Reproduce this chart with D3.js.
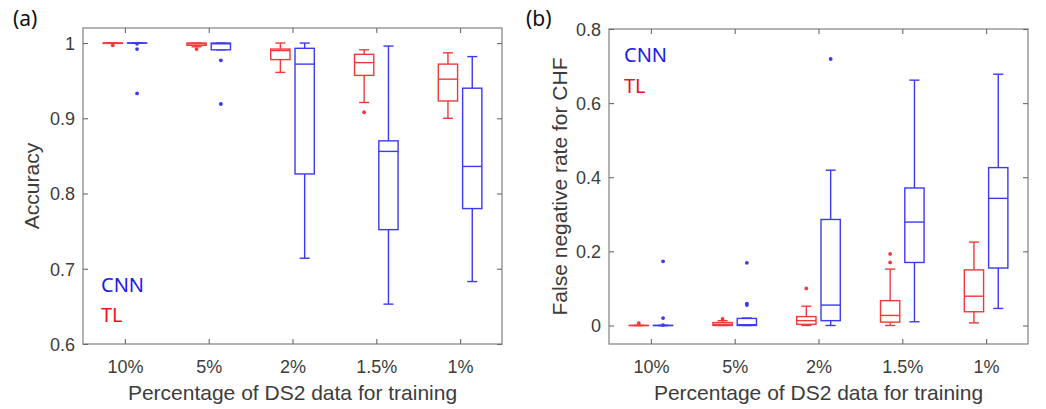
<!DOCTYPE html>
<html>
<head>
<meta charset="utf-8">
<script src="https://cdn.jsdelivr.net/npm/d3@7"></script>
<style>
  html, body { margin: 0; padding: 0; background: #ffffff; }
  svg { display: block; }
</style>
</head>
<body>
<svg id="chart" width="1046" height="409"></svg>
<script>
// ---------------- DATA ----------------
const categories = ["10%", "5%", "2%", "1.5%", "1%"];

// Each box: [lowerWhisker, q1, median, q3, upperWhisker]
// Panel (a): Accuracy
const accTL = [
  [1.000, 0.9995, 1.000, 1.000, 1.000],
  [0.995, 0.997, 0.999, 1.000, 1.000],
  [0.961, 0.978, 0.990, 0.992, 1.000],
  [0.921, 0.957, 0.974, 0.985, 0.991],
  [0.900, 0.923, 0.952, 0.972, 0.987]
];
const accTLOutliers = [[0.997], [0.992], [], [0.908], []];

const accCNN = [
  [1.000, 1.000, 1.000, 1.000, 1.000],
  [0.991, 0.991, 0.999, 1.000, 1.000],
  [0.714, 0.826, 0.972, 0.993, 1.000],
  [0.653, 0.752, 0.856, 0.870, 0.996],
  [0.683, 0.780, 0.836, 0.940, 0.982]
];
const accCNNOutliers = [[0.999, 0.992, 0.933], [0.977, 0.919], [], [], []];

// Panel (b): False negative rate for CHF
const fnrTL = [
  [0.000, 0.000, 0.000, 0.000, 0.000],
  [0.000, 0.000, 0.003, 0.008, 0.013],
  [0.000, 0.003, 0.013, 0.024, 0.052],
  [0.000, 0.009, 0.027, 0.067, 0.152],
  [0.007, 0.037, 0.079, 0.150, 0.225]
];
const fnrTLOutliers = [[0.006], [0.018], [0.100], [0.170, 0.193], []];

const fnrCNN = [
  [0.000, 0.000, 0.000, 0.000, 0.000],
  [0.000, 0.000, 0.002, 0.019, 0.020],
  [0.000, 0.013, 0.055, 0.286, 0.419],
  [0.010, 0.170, 0.279, 0.371, 0.662],
  [0.046, 0.155, 0.343, 0.426, 0.678]
];
const fnrCNNOutliers = [[0.001, 0.020, 0.173], [0.055, 0.059, 0.169], [0.719], [], []];

const accTicks = [0.6, 0.7, 0.8, 0.9, 1.0];
const accTickLabels = ["0.6", "0.7", "0.8", "0.9", "1"];
const fnrTicks = [0, 0.2, 0.4, 0.6, 0.8];
const fnrTickLabels = ["0", "0.2", "0.4", "0.6", "0.8"];

const seriesNames = ["CNN", "TL"];

// ---------------- STYLE ----------------
const COL_TL = "#f03a3a";
const COL_CNN = "#3a3af0";
const LEG_TL = "#e8161c";
const LEG_CNN = "#1a1ae6";
const FRAME = "#8a8a8a";
const TEXT = "#3c3c3c";
const TICK_FONT = "'Liberation Sans', Arial, Helvetica, sans-serif";
const LEG_FONT = "'Noto Sans', 'Open Sans', sans-serif";

const svg = d3.select("#chart");

function drawPanel(cfg) {
  const g = svg.append("g");
  const x = d3.scaleLinear().domain([0.5, categories.length + 0.5]).range([cfg.left, cfg.right]);
  const y = d3.scaleLinear().domain(cfg.yDomain).range([cfg.bottom, cfg.top]);

  const tickFmt = (d) => cfg.tickLabels[cfg.ticks.indexOf(d)];

  // Frame
  g.append("rect")
    .attr("x", cfg.left).attr("y", cfg.top)
    .attr("width", cfg.right - cfg.left).attr("height", cfg.bottom - cfg.top)
    .attr("fill", "none").attr("stroke", FRAME).attr("stroke-width", 1.3);

  const catIdx = categories.map((c, i) => i + 1);

  // Axes (ticks inward, mirrored)
  const left = g.append("g").attr("transform", `translate(${cfg.left},0)`)
    .call(d3.axisLeft(y).tickValues(cfg.ticks).tickFormat(tickFmt).tickSizeInner(-5).tickSizeOuter(0).tickPadding(12));
  const right = g.append("g").attr("transform", `translate(${cfg.right},0)`)
    .call(d3.axisRight(y).tickValues(cfg.ticks).tickFormat("").tickSizeInner(-5).tickSizeOuter(0));
  const bottom = g.append("g").attr("transform", `translate(0,${cfg.bottom})`)
    .call(d3.axisBottom(x).tickValues(catIdx).tickFormat((d) => categories[d - 1]).tickSizeInner(-5).tickSizeOuter(0).tickPadding(22));
  const top = g.append("g").attr("transform", `translate(0,${cfg.top})`)
    .call(d3.axisTop(x).tickValues(catIdx).tickFormat("").tickSizeInner(-5).tickSizeOuter(0));

  [left, right, bottom, top].forEach((a) => {
    a.attr("font-family", null).attr("font-size", null);
    a.select(".domain").remove();
    a.selectAll(".tick line").attr("stroke", "#6a6a6a").attr("stroke-width", 1.1);
    a.selectAll(".tick text").attr("fill", TEXT).style("font-family", TICK_FONT).style("font-size", "18px");
  });
  bottom.selectAll(".tick text").attr("dy", 0).attr("y", 28.5);
  left.selectAll(".tick text").attr("dy", "0.35em").attr("x", -8);

  // Box plots
  const offset = 0.145, halfW = 0.115, capHalf = 0.06;
  const series = [
    { data: cfg.tl, out: cfg.tlOut, color: COL_TL, off: -offset },
    { data: cfg.cnn, out: cfg.cnnOut, color: COL_CNN, off: offset }
  ];
  series.forEach((s) => {
    s.data.forEach((b, i) => {
      const cx = i + 1 + s.off;
      const [lo, q1, med, q3, hi] = b;
      const bg = g.append("g").attr("stroke", s.color).attr("stroke-width", 1.4).attr("fill", "none");
      // whiskers
      bg.append("line").attr("x1", x(cx)).attr("x2", x(cx)).attr("y1", y(q3)).attr("y2", y(hi));
      bg.append("line").attr("x1", x(cx)).attr("x2", x(cx)).attr("y1", y(q1)).attr("y2", y(lo));
      // caps
      bg.append("line").attr("x1", x(cx - capHalf)).attr("x2", x(cx + capHalf)).attr("y1", y(hi)).attr("y2", y(hi));
      bg.append("line").attr("x1", x(cx - capHalf)).attr("x2", x(cx + capHalf)).attr("y1", y(lo)).attr("y2", y(lo));
      // box
      bg.append("rect").attr("x", x(cx - halfW)).attr("y", y(q3))
        .attr("width", x(cx + halfW) - x(cx - halfW)).attr("height", Math.max(0.01, y(q1) - y(q3)))
        .attr("fill", "#ffffff");
      // median
      bg.append("line").attr("x1", x(cx - halfW)).attr("x2", x(cx + halfW)).attr("y1", y(med)).attr("y2", y(med));
      // outliers
      s.out[i].forEach((v) => {
        g.append("circle").attr("cx", x(cx)).attr("cy", y(v)).attr("r", 1.9).attr("fill", s.color);
      });
    });
  });

  // Axis labels
  g.append("text")
    .attr("x", (cfg.left + cfg.right) / 2).attr("y", 400)
    .attr("text-anchor", "middle").attr("fill", TEXT)
    .style("font-family", TICK_FONT).style("font-size", "21px")
    .text("Percentage of DS2 data for training");
  g.append("text")
    .attr("transform", `translate(${cfg.yLabelX},${(cfg.top + cfg.bottom) / 2}) rotate(-90)`)
    .attr("text-anchor", "middle").attr("fill", TEXT)
    .style("font-family", TICK_FONT).style("font-size", "21px")
    .text(cfg.yLabel);

  // Panel tag
  g.append("text").attr("x", cfg.tagX).attr("y", 26).attr("fill", "#111")
    .style("font-family", LEG_FONT).style("font-size", "21px").text(cfg.tag);

  // Legend text
  g.append("text").attr("x", cfg.legX).attr("y", cfg.legY1).attr("fill", LEG_CNN)
    .style("font-family", LEG_FONT).style("font-size", "20px").text(seriesNames[0]);
  g.append("text").attr("x", cfg.legX).attr("y", cfg.legY2).attr("fill", LEG_TL)
    .style("font-family", LEG_FONT).style("font-size", "20px").text(seriesNames[1]);
}

drawPanel({
  left: 83, right: 502, top: 28, bottom: 344,
  yDomain: [0.6, 1.02], ticks: accTicks, tickLabels: accTickLabels,
  tl: accTL, tlOut: accTLOutliers, cnn: accCNN, cnnOut: accCNNOutliers,
  yLabel: "Accuracy", yLabelX: 39, tag: "(a)", tagX: 13,
  legX: 101, legY1: 292, legY2: 322
});

drawPanel({
  left: 609, right: 1028, top: 29, bottom: 344,
  yDomain: [-0.05, 0.8], ticks: fnrTicks, tickLabels: fnrTickLabels,
  tl: fnrTL, tlOut: fnrTLOutliers, cnn: fnrCNN, cnnOut: fnrCNNOutliers,
  yLabel: "False negative rate for CHF", yLabelX: 567, tag: "(b)", tagX: 526,
  legX: 624, legY1: 62, legY2: 93
});
</script>
</body>
</html>
